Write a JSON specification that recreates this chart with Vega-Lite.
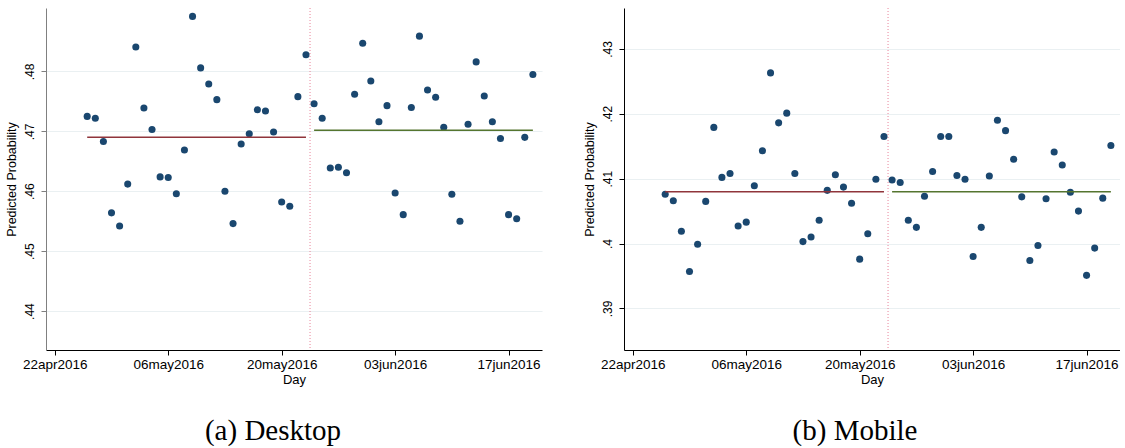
{
  "$schema": "https://vega.github.io/schema/vega-lite/v6.json",
  "padding": {"left": 4, "top": 7, "right": 0, "bottom": 0},
  "spacing": 41,
  "background": "white",
  "config": {
    "view": {"stroke": null},
    "axis": {
      "labelFont": "Liberation Sans",
      "titleFont": "Liberation Sans",
      "labelColor": "black",
      "titleColor": "black",
      "titleFontWeight": "normal",
      "tickColor": "black",
      "domainColor": "black",
      "tickSize": 5
    },
    "title": {"font": "Liberation Serif", "fontSize": 29, "fontWeight": "normal", "color": "black"}
  },
  "datasets": {
    "desktop": [
      {"date": "2016-04-26", "prob": 0.4725}, {"date": "2016-04-27", "prob": 0.4722}, {"date": "2016-04-28", "prob": 0.4683},
      {"date": "2016-04-29", "prob": 0.4564}, {"date": "2016-04-30", "prob": 0.4542}, {"date": "2016-05-01", "prob": 0.4612},
      {"date": "2016-05-02", "prob": 0.4841}, {"date": "2016-05-03", "prob": 0.4739}, {"date": "2016-05-04", "prob": 0.4703},
      {"date": "2016-05-05", "prob": 0.4624}, {"date": "2016-05-06", "prob": 0.4623}, {"date": "2016-05-07", "prob": 0.4596},
      {"date": "2016-05-08", "prob": 0.4669}, {"date": "2016-05-09", "prob": 0.4892}, {"date": "2016-05-10", "prob": 0.4806},
      {"date": "2016-05-11", "prob": 0.4779}, {"date": "2016-05-12", "prob": 0.4753}, {"date": "2016-05-13", "prob": 0.4600},
      {"date": "2016-05-14", "prob": 0.4546}, {"date": "2016-05-15", "prob": 0.4679}, {"date": "2016-05-16", "prob": 0.4696},
      {"date": "2016-05-17", "prob": 0.4736}, {"date": "2016-05-18", "prob": 0.4734}, {"date": "2016-05-19", "prob": 0.4699},
      {"date": "2016-05-20", "prob": 0.4582}, {"date": "2016-05-21", "prob": 0.4575}, {"date": "2016-05-22", "prob": 0.4758},
      {"date": "2016-05-23", "prob": 0.4828}, {"date": "2016-05-24", "prob": 0.4746}, {"date": "2016-05-25", "prob": 0.4722},
      {"date": "2016-05-26", "prob": 0.4639}, {"date": "2016-05-27", "prob": 0.4640}, {"date": "2016-05-28", "prob": 0.4631},
      {"date": "2016-05-29", "prob": 0.4762}, {"date": "2016-05-30", "prob": 0.4847}, {"date": "2016-05-31", "prob": 0.4784},
      {"date": "2016-06-01", "prob": 0.4716}, {"date": "2016-06-02", "prob": 0.4743}, {"date": "2016-06-03", "prob": 0.4597},
      {"date": "2016-06-04", "prob": 0.4561}, {"date": "2016-06-05", "prob": 0.4740}, {"date": "2016-06-06", "prob": 0.4859},
      {"date": "2016-06-07", "prob": 0.4769}, {"date": "2016-06-08", "prob": 0.4757}, {"date": "2016-06-09", "prob": 0.4707},
      {"date": "2016-06-10", "prob": 0.4595}, {"date": "2016-06-11", "prob": 0.4550}, {"date": "2016-06-12", "prob": 0.4712},
      {"date": "2016-06-13", "prob": 0.4816}, {"date": "2016-06-14", "prob": 0.4759}, {"date": "2016-06-15", "prob": 0.4716},
      {"date": "2016-06-16", "prob": 0.4688}, {"date": "2016-06-17", "prob": 0.4561}, {"date": "2016-06-18", "prob": 0.4554},
      {"date": "2016-06-19", "prob": 0.4690}, {"date": "2016-06-20", "prob": 0.4795}
    ],
    "mobile": [
      {"date": "2016-04-26", "prob": 0.4076}, {"date": "2016-04-27", "prob": 0.4066}, {"date": "2016-04-28", "prob": 0.4019},
      {"date": "2016-04-29", "prob": 0.3957}, {"date": "2016-04-30", "prob": 0.3999}, {"date": "2016-05-01", "prob": 0.4065},
      {"date": "2016-05-02", "prob": 0.4179}, {"date": "2016-05-03", "prob": 0.4102}, {"date": "2016-05-04", "prob": 0.4108},
      {"date": "2016-05-05", "prob": 0.4027}, {"date": "2016-05-06", "prob": 0.4033}, {"date": "2016-05-07", "prob": 0.4089},
      {"date": "2016-05-08", "prob": 0.4143}, {"date": "2016-05-09", "prob": 0.4263}, {"date": "2016-05-10", "prob": 0.4186},
      {"date": "2016-05-11", "prob": 0.4201}, {"date": "2016-05-12", "prob": 0.4108}, {"date": "2016-05-13", "prob": 0.4003},
      {"date": "2016-05-14", "prob": 0.4010}, {"date": "2016-05-15", "prob": 0.4036}, {"date": "2016-05-16", "prob": 0.4082},
      {"date": "2016-05-17", "prob": 0.4106}, {"date": "2016-05-18", "prob": 0.4087}, {"date": "2016-05-19", "prob": 0.4062},
      {"date": "2016-05-20", "prob": 0.3976}, {"date": "2016-05-21", "prob": 0.4015}, {"date": "2016-05-22", "prob": 0.4099},
      {"date": "2016-05-23", "prob": 0.4165}, {"date": "2016-05-24", "prob": 0.4098}, {"date": "2016-05-25", "prob": 0.4094},
      {"date": "2016-05-26", "prob": 0.4036}, {"date": "2016-05-27", "prob": 0.4025}, {"date": "2016-05-28", "prob": 0.4073},
      {"date": "2016-05-29", "prob": 0.4111}, {"date": "2016-05-30", "prob": 0.4165}, {"date": "2016-05-31", "prob": 0.4165},
      {"date": "2016-06-01", "prob": 0.4105}, {"date": "2016-06-02", "prob": 0.4099}, {"date": "2016-06-03", "prob": 0.3980},
      {"date": "2016-06-04", "prob": 0.4025}, {"date": "2016-06-05", "prob": 0.4104}, {"date": "2016-06-06", "prob": 0.4190},
      {"date": "2016-06-07", "prob": 0.4174}, {"date": "2016-06-08", "prob": 0.4130}, {"date": "2016-06-09", "prob": 0.4072},
      {"date": "2016-06-10", "prob": 0.3974}, {"date": "2016-06-11", "prob": 0.3997}, {"date": "2016-06-12", "prob": 0.4069},
      {"date": "2016-06-13", "prob": 0.4141}, {"date": "2016-06-14", "prob": 0.4121}, {"date": "2016-06-15", "prob": 0.4079},
      {"date": "2016-06-16", "prob": 0.4050}, {"date": "2016-06-17", "prob": 0.3951}, {"date": "2016-06-18", "prob": 0.3993},
      {"date": "2016-06-19", "prob": 0.4070}, {"date": "2016-06-20", "prob": 0.4151}
    ],
    "desktop_means": [
      {"period": "before", "start": "2016-04-26", "end": "2016-05-23", "mean": 0.4690},
      {"period": "after", "start": "2016-05-24", "end": "2016-06-20", "mean": 0.4702}
    ],
    "mobile_means": [
      {"period": "before", "start": "2016-04-26", "end": "2016-05-23", "mean": 0.4080},
      {"period": "after", "start": "2016-05-24", "end": "2016-06-20", "mean": 0.4080}
    ],
    "cut": [{"cut": "2016-05-23T12:00:00Z"}]
  },
  "hconcat": [
    {
      "width": 496,
      "height": 342,
      "title": {"text": "(a) Desktop", "orient": "bottom", "anchor": "middle", "offset": 30, "dx": -21},
      "layer": [
        {
          "data": {"name": "cut"},
          "mark": {"type": "rule", "color": "#e8849a", "strokeDash": [1, 2], "strokeWidth": 1},
          "encoding": {"x": {"field": "cut", "type": "temporal"}}
        },
        {
          "data": {"name": "desktop"},
          "mark": {"type": "circle", "size": 50, "opacity": 1, "color": "#1a476f"},
          "encoding": {
            "x": {
              "field": "date", "type": "temporal", "title": "Day",
              "scale": {"type": "utc", "domain": [{"year": 2016, "month": 4, "date": 20, "hours": 22, "utc": true}, {"year": 2016, "month": 6, "date": 21, "hours": 3, "utc": true}], "nice": false},
              "axis": {
                "values": [{"year": 2016, "month": 4, "date": 22, "utc": true}, {"year": 2016, "month": 5, "date": 6, "utc": true}, {"year": 2016, "month": 5, "date": 20, "utc": true}, {"year": 2016, "month": 6, "date": 3, "utc": true}, {"year": 2016, "month": 6, "date": 17, "utc": true}],
                "labelExpr": "lower(utcFormat(datum.value, '%d%b%Y'))",
                "grid": false, "labelFontSize": 13.5, "titleFontSize": 13, "labelPadding": 2, "titlePadding": 3, "labelFlush": false
              }
            },
            "y": {
              "field": "prob", "type": "quantitative", "title": "Predicted Probability",
              "scale": {"domain": [0.4335, 0.4906], "nice": false, "zero": false},
              "axis": {
                "values": [0.44, 0.45, 0.46, 0.47, 0.48],
                "labelExpr": "slice(format(datum.value, '.2f'), 1)",
                "labelAngle": 270, "labelAlign": "center", "labelBaseline": "bottom",
                "labelFontSize": 12, "titleFontSize": 12.5, "labelPadding": 5, "titlePadding": 5,
                "grid": true, "gridColor": "#eaf0f2", "gridWidth": 1.2,
                "domainColor": "#808080", "tickColor": "#808080"
              }
            }
          }
        },
        {
          "data": {"name": "desktop_means"},
          "mark": {"type": "rule", "strokeWidth": 1.5},
          "encoding": {
            "x": {"field": "start", "type": "temporal"},
            "x2": {"field": "end"},
            "y": {"field": "mean", "type": "quantitative"},
            "color": {"field": "period", "type": "nominal", "scale": {"domain": ["before", "after"], "range": ["#90353b", "#55752f"]}, "legend": null}
          }
        }
      ]
    },
    {
      "width": 496,
      "height": 342,
      "title": {"text": "(b) Mobile", "orient": "bottom", "anchor": "middle", "offset": 30, "dx": -17},
      "layer": [
        {
          "data": {"name": "cut"},
          "mark": {"type": "rule", "color": "#e8849a", "strokeDash": [1, 2], "strokeWidth": 1},
          "encoding": {"x": {"field": "cut", "type": "temporal"}}
        },
        {
          "data": {"name": "mobile"},
          "mark": {"type": "circle", "size": 50, "opacity": 1, "color": "#1a476f"},
          "encoding": {
            "x": {
              "field": "date", "type": "temporal", "title": "Day",
              "scale": {"type": "utc", "domain": [{"year": 2016, "month": 4, "date": 20, "hours": 22, "utc": true}, {"year": 2016, "month": 6, "date": 21, "hours": 3, "utc": true}], "nice": false},
              "axis": {
                "values": [{"year": 2016, "month": 4, "date": 22, "utc": true}, {"year": 2016, "month": 5, "date": 6, "utc": true}, {"year": 2016, "month": 5, "date": 20, "utc": true}, {"year": 2016, "month": 6, "date": 3, "utc": true}, {"year": 2016, "month": 6, "date": 17, "utc": true}],
                "labelExpr": "lower(utcFormat(datum.value, '%d%b%Y'))",
                "grid": false, "labelFontSize": 13.5, "titleFontSize": 13, "labelPadding": 2, "titlePadding": 3, "labelFlush": false
              }
            },
            "y": {
              "field": "prob", "type": "quantitative", "title": "Predicted Probability",
              "scale": {"domain": [0.3836, 0.4363], "nice": false, "zero": false},
              "axis": {
                "values": [0.39, 0.40, 0.41, 0.42, 0.43],
                "labelExpr": "abs(datum.value - 0.4) < 0.000001 ? '.4' : slice(format(datum.value, '.2f'), 1)",
                "labelAngle": 270, "labelAlign": "center", "labelBaseline": "bottom",
                "labelFontSize": 12, "titleFontSize": 12.5, "labelPadding": 5, "titlePadding": 5,
                "grid": true, "gridColor": "#eaf0f2", "gridWidth": 1.2
              }
            }
          }
        },
        {
          "data": {"name": "mobile_means"},
          "mark": {"type": "rule", "strokeWidth": 1.5},
          "encoding": {
            "x": {"field": "start", "type": "temporal"},
            "x2": {"field": "end"},
            "y": {"field": "mean", "type": "quantitative"},
            "color": {"field": "period", "type": "nominal", "scale": {"domain": ["before", "after"], "range": ["#90353b", "#55752f"]}, "legend": null}
          }
        }
      ]
    }
  ]
}
